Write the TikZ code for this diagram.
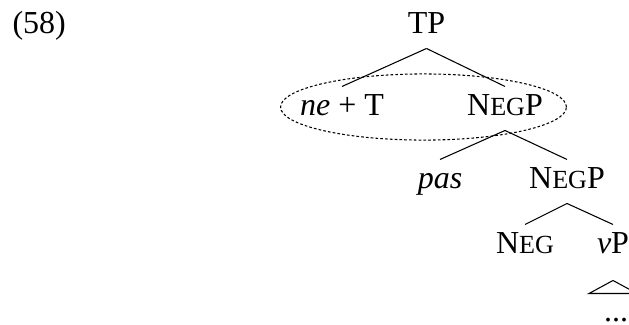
\documentclass[tikz,border=0pt]{standalone}
\usepackage{fontspec}
\setmainfont{Liberation Serif}
\usetikzlibrary{calc}
\newcommand{\negsc}{N{\fontsize{9.8}{10}\selectfont EG}}

\begin{document}
\begin{tikzpicture}[
    x=0.375pt, y=-0.375pt,
    font=\fontsize{12}{14}\selectfont,
    cat/.style={
        anchor=base,
        inner xsep=0pt,
        inner ysep=2.6pt,
        text height=7.9pt,
        text depth=3pt
    },
    branch/.style={line width=0.4pt},
    group/.style={dash pattern=on 1pt off 0.8pt, line width=0.4pt}
]
\useasboundingbox (0,0) rectangle (629,324);
\clip (0,0) rectangle (629,324);

% example number
\node[anchor=base west, inner sep=0pt] (exnum) at (12,33) {(58)};

% first row
\node[cat] (tp) at (426.5,33) {TP};

% second row
\node[cat] (neT) at (342,115) {\textit{ne} + T};
\node[cat] (negA) at (505,115) {\negsc P};

% third row
\node[cat] (pas) at (440,188) {\textit{pas}};
\node[cat] (negB) at (567,188) {\negsc P};

% fourth row
\node[cat] (neg) at (525,253) {\negsc};
\node[cat] (vP) at (613,253) {\textit{v}P};

% roof
\node[cat, text depth=0pt, inner ysep=0pt] (dots) at (616,321) {...};

\draw[branch] (tp.south) -- (neT.north);
\draw[branch] (tp.south) -- (negA.north);
\draw[branch] (negA.south) -- (pas.north);
\draw[branch] (negA.south) -- (negB.north);
\draw[branch] (negB.south) -- (neg.north);
\draw[branch] (negB.south) -- (vP.north);
\draw[branch] ($(vP.south)+(0,12)$) -- ($(vP.south)+(-24,25)$)
    -- ($(vP.south)+(24,25)$) -- cycle;

% dotted group
\draw[group] ($(neT.base)!0.5!(negA.base)+(0,-8)$)
    ellipse [x radius=53.6pt, y radius=12.4pt];

\end{tikzpicture}
\end{document}
